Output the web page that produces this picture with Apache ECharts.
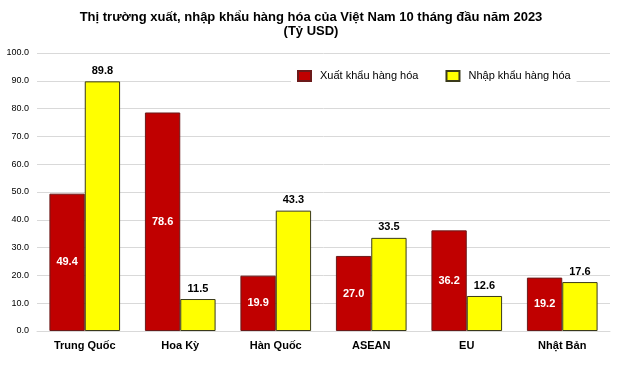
<!DOCTYPE html>
<html><head><meta charset="utf-8">
<script src="https://cdn.jsdelivr.net/npm/echarts@6/dist/echarts.min.js"></script>
<style>html,body{margin:0;padding:0;background:#fff}#c{width:622px;height:368px}</style>
</head><body><div id="c"></div>
<script>
const categories = ['Trung Quốc', 'Hoa Kỳ', 'Hàn Quốc', 'ASEAN', 'EU', 'Nhật Bản'];
const exportValues = [49.4, 78.6, 19.9, 27.0, 36.2, 19.2];
const importValues = [89.8, 11.5, 43.3, 33.5, 12.6, 17.6];
const seriesNames = ['Xuất khẩu hàng hóa', 'Nhập khẩu hàng hóa'];
const titleText = 'Thị trường xuất, nhập khẩu hàng hóa của Việt Nam 10 tháng đầu năm 2023\n(Tỷ USD)';

const chart = echarts.init(document.getElementById('c'));
const font = 'Liberation Sans, Arial, sans-serif';
chart.setOption({
  animation: false,
  textStyle: { fontFamily: font },
  title: {
    text: titleText, left: 'center', top: 5,
    textStyle: { fontSize: 13, fontWeight: 'bold', color: '#000', lineHeight: 14, fontFamily: font }
  },
  legend: {
    data: seriesNames, left: 291, top: 67, itemWidth: 13, itemHeight: 10, itemGap: 27, icon: 'rect',
    backgroundColor: '#fff', padding: [3, 6],
    textStyle: { fontSize: 11, color: '#000', fontFamily: font, padding: [0, 0, 0, 4] }
  },
  grid: { left: 37, right: 12, top: 53, bottom: 37 },
  xAxis: {
    type: 'category', data: categories,
    axisTick: { show: false },
    axisLine: { lineStyle: { color: '#d9d9d9' } },
    axisLabel: { fontSize: 11, fontWeight: 'bold', color: '#000', margin: 9, fontFamily: font }
  },
  yAxis: {
    type: 'value', min: 0, max: 100, interval: 10,
    axisLabel: { fontSize: 9, color: '#000', formatter: v => v.toFixed(1), margin: 8, fontFamily: font },
    splitLine: { lineStyle: { color: '#d9d9d9' } }
  },
  series: [
    {
      name: seriesNames[0], type: 'bar', data: exportValues, barGap: '0%', barCategoryGap: '26%',
      itemStyle: { color: '#C00000', borderColor: '#6b1a1a', borderWidth: 1 },
      label: { show: true, position: 'inside', color: '#fff', fontWeight: 'bold', fontSize: 11,
        formatter: p => p.value.toFixed(1), fontFamily: font }
    },
    {
      name: seriesNames[1], type: 'bar', data: importValues,
      itemStyle: { color: '#FFFF00', borderColor: '#3a3a1a', borderWidth: 1 },
      label: { show: true, position: 'top', color: '#000', fontWeight: 'bold', fontSize: 11, distance: 5,
        formatter: p => p.value.toFixed(1), fontFamily: font }
    }
  ]
});
</script></body></html>
